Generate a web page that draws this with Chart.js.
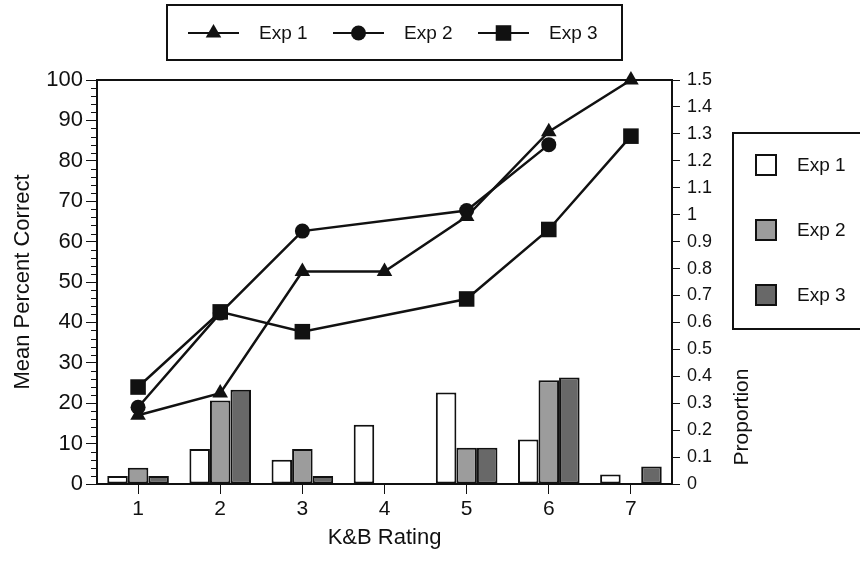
<!DOCTYPE html>
<html>
<head>
<meta charset="utf-8">
<script src="https://cdn.jsdelivr.net/npm/chart.js@4.4.0/dist/chart.umd.min.js"></script>
<style>
  html, body { margin: 0; padding: 0; background: #fff; }
  #wrap { width: 860px; height: 561px; }
</style>
</head>
<body>
<div id="wrap"><canvas id="chart" width="860" height="561"></canvas></div>
<script>
// --- Data ---
const ratings = ['1', '2', '3', '4', '5', '6', '7'];
const seriesNames = ['Exp 1', 'Exp 2', 'Exp 3'];

// Mean percent correct (left axis); null = no point at that rating
const pctExp1 = [17, 22.5, 52.6, 52.6, 66.2, 87.2, 100];
const pctExp2 = [19, 42.3, 62.6, null, 67.7, 84, null];
const pctExp3 = [24, 42.6, 37.7, null, 45.8, 63, 86.1];

// Proportion of responses per rating (right axis)
const propExp1 = [0.03, 0.13, 0.09, 0.22, 0.34, 0.165, 0.035];
const propExp2 = [0.06, 0.31, 0.13, 0, 0.135, 0.385, 0];
const propExp3 = [0.03, 0.35, 0.03, 0, 0.135, 0.395, 0.065];

// --- Style tokens ---
const FONT = "'Liberation Sans', Arial, Helvetica, sans-serif";
const INK = '#111';
const BAR_FILLS = ['#ffffff', '#9c9c9c', '#686868'];
const MARKERS = ['triangle', 'circle', 'rect'];
const MARKER_R = [9, 7.5, 11];

function drawMarker(ctx, style, x, y, r) {
  ctx.beginPath();
  if (style === 'triangle') {
    ctx.moveTo(x, y - r);
    ctx.lineTo(x + r * 0.866, y + r * 0.5);
    ctx.lineTo(x - r * 0.866, y + r * 0.5);
    ctx.closePath();
  } else if (style === 'rect') {
    const s = r * Math.SQRT1_2;
    ctx.rect(x - s, y - s, 2 * s, 2 * s);
  } else {
    ctx.arc(x, y, r, 0, Math.PI * 2);
  }
  ctx.fill();
}

// Frame top line and minor ticks go under the data
const frame = {
  id: 'frame',
  beforeDatasetsDraw(chart) {
    const { ctx, chartArea: a, scales } = chart;
    ctx.save();
    ctx.strokeStyle = INK;

    ctx.lineWidth = 2;
    ctx.beginPath();
    ctx.moveTo(a.left, a.top);
    ctx.lineTo(a.right, a.top);
    ctx.stroke();

    // minor ticks on the left axis (every 2 units)
    ctx.lineWidth = 1;
    for (let v = 2; v < 100; v += 2) {
      if (v % 10 === 0) continue;
      const py = Math.round(scales.y.getPixelForValue(v)) + 0.5;
      ctx.beginPath();
      ctx.moveTo(a.left - 6, py);
      ctx.lineTo(a.left, py);
      ctx.stroke();
    }
    ctx.restore();
  }
};

// Legends and the right axis title
const extras = {
  id: 'extras',
  afterDraw(chart) {
    const { ctx } = chart;
    ctx.save();
    ctx.strokeStyle = INK;
    ctx.fillStyle = INK;

    // top legend (lines)
    ctx.lineWidth = 2;
    ctx.strokeRect(167, 5, 455, 55);
    ctx.font = '19px ' + FONT;
    ctx.textBaseline = 'middle';
    ctx.textAlign = 'left';
    seriesNames.forEach((name, i) => {
      const x0 = 188 + i * 145;
      const y0 = 33;
      ctx.lineWidth = 2;
      ctx.beginPath();
      ctx.moveTo(x0, y0);
      ctx.lineTo(x0 + 51, y0);
      ctx.stroke();
      drawMarker(ctx, MARKERS[i], x0 + 25.5, y0, MARKER_R[i]);
      ctx.fillText(name, x0 + 71, y0 + 1);
    });

    // right legend (bars)
    ctx.lineWidth = 2;
    ctx.strokeRect(733, 133, 140, 196);
    seriesNames.forEach((name, i) => {
      const cy = 165 + i * 65;
      ctx.fillStyle = BAR_FILLS[i];
      ctx.fillRect(756, cy - 10, 20, 20);
      ctx.strokeRect(756, cy - 10, 20, 20);
      ctx.fillStyle = INK;
      ctx.fillText(name, 797, cy + 1);
    });

    // right axis title, placed low as in the original
    ctx.save();
    ctx.translate(742, 417);
    ctx.rotate(-Math.PI / 2);
    ctx.textAlign = 'center';
    ctx.font = '21px ' + FONT;
    ctx.fillText('Proportion', 0, 0);
    ctx.restore();

    ctx.restore();
  }
};

const lineSets = [pctExp1, pctExp2, pctExp3].map((data, i) => ({
  type: 'line',
  label: seriesNames[i],
  data,
  yAxisID: 'y',
  borderColor: INK,
  borderWidth: 2.5,
  backgroundColor: INK,
  pointStyle: MARKERS[i],
  pointRadius: MARKER_R[i],
  pointBorderWidth: 0,
  pointBackgroundColor: INK,
  spanGaps: true,
  tension: 0,
  clip: false,
  order: 0,
}));

const barSets = [propExp1, propExp2, propExp3].map((data, i) => ({
  type: 'bar',
  label: seriesNames[i],
  data,
  yAxisID: 'y1',
  backgroundColor: BAR_FILLS[i],
  borderColor: INK,
  borderWidth: 2,
  borderSkipped: false,
  categoryPercentage: 0.75,
  barPercentage: 1.0,
  order: 1,
}));

new Chart(document.getElementById('chart').getContext('2d'), {
  type: 'bar',
  data: { labels: ratings, datasets: [...barSets, ...lineSets] },
  options: {
    responsive: false,
    animation: false,
    devicePixelRatio: 1,
    layout: { padding: { top: 80, right: 128, bottom: 0, left: 0 } },
    plugins: { legend: { display: false }, tooltip: { enabled: false } },
    scales: {
      x: {
        type: 'category',
        offset: true,
        afterFit: (s) => { s.height = 77; },
        border: { display: true, color: INK, width: 2 },
        grid: { display: true, drawOnChartArea: false, offset: false, tickLength: 10, color: INK, tickWidth: 1 },
        ticks: { color: INK, font: { family: FONT, size: 21 }, padding: 3 },
        title: { display: true, text: 'K&B Rating', color: INK, font: { family: FONT, size: 22 }, padding: { top: 0, bottom: 10 } },
      },
      y: {
        position: 'left',
        min: 0,
        max: 100,
        afterFit: (s) => { s.width = 97; },
        border: { display: true, color: INK, width: 2 },
        grid: { display: true, drawOnChartArea: false, tickLength: 11, color: INK, tickWidth: 1 },
        ticks: { stepSize: 10, color: INK, font: { family: FONT, size: 22 }, padding: 3 },
        title: { display: true, text: 'Mean Percent Correct', color: INK, font: { family: FONT, size: 22 }, padding: { top: 10, bottom: 0 } },
      },
      y1: {
        position: 'right',
        min: 0,
        max: 1.5,
        afterFit: (s) => { s.width = 60; },
        border: { display: true, color: INK, width: 2 },
        grid: { display: true, drawOnChartArea: false, tickLength: 8, color: INK, tickWidth: 1 },
        ticks: {
          stepSize: 0.1,
          color: INK,
          font: { family: FONT, size: 18 },
          padding: 7,
          callback: (v) => String(Number(v.toFixed(1))),
        },
      },
    },
  },
  plugins: [frame, extras],
});
</script>
</body>
</html>
